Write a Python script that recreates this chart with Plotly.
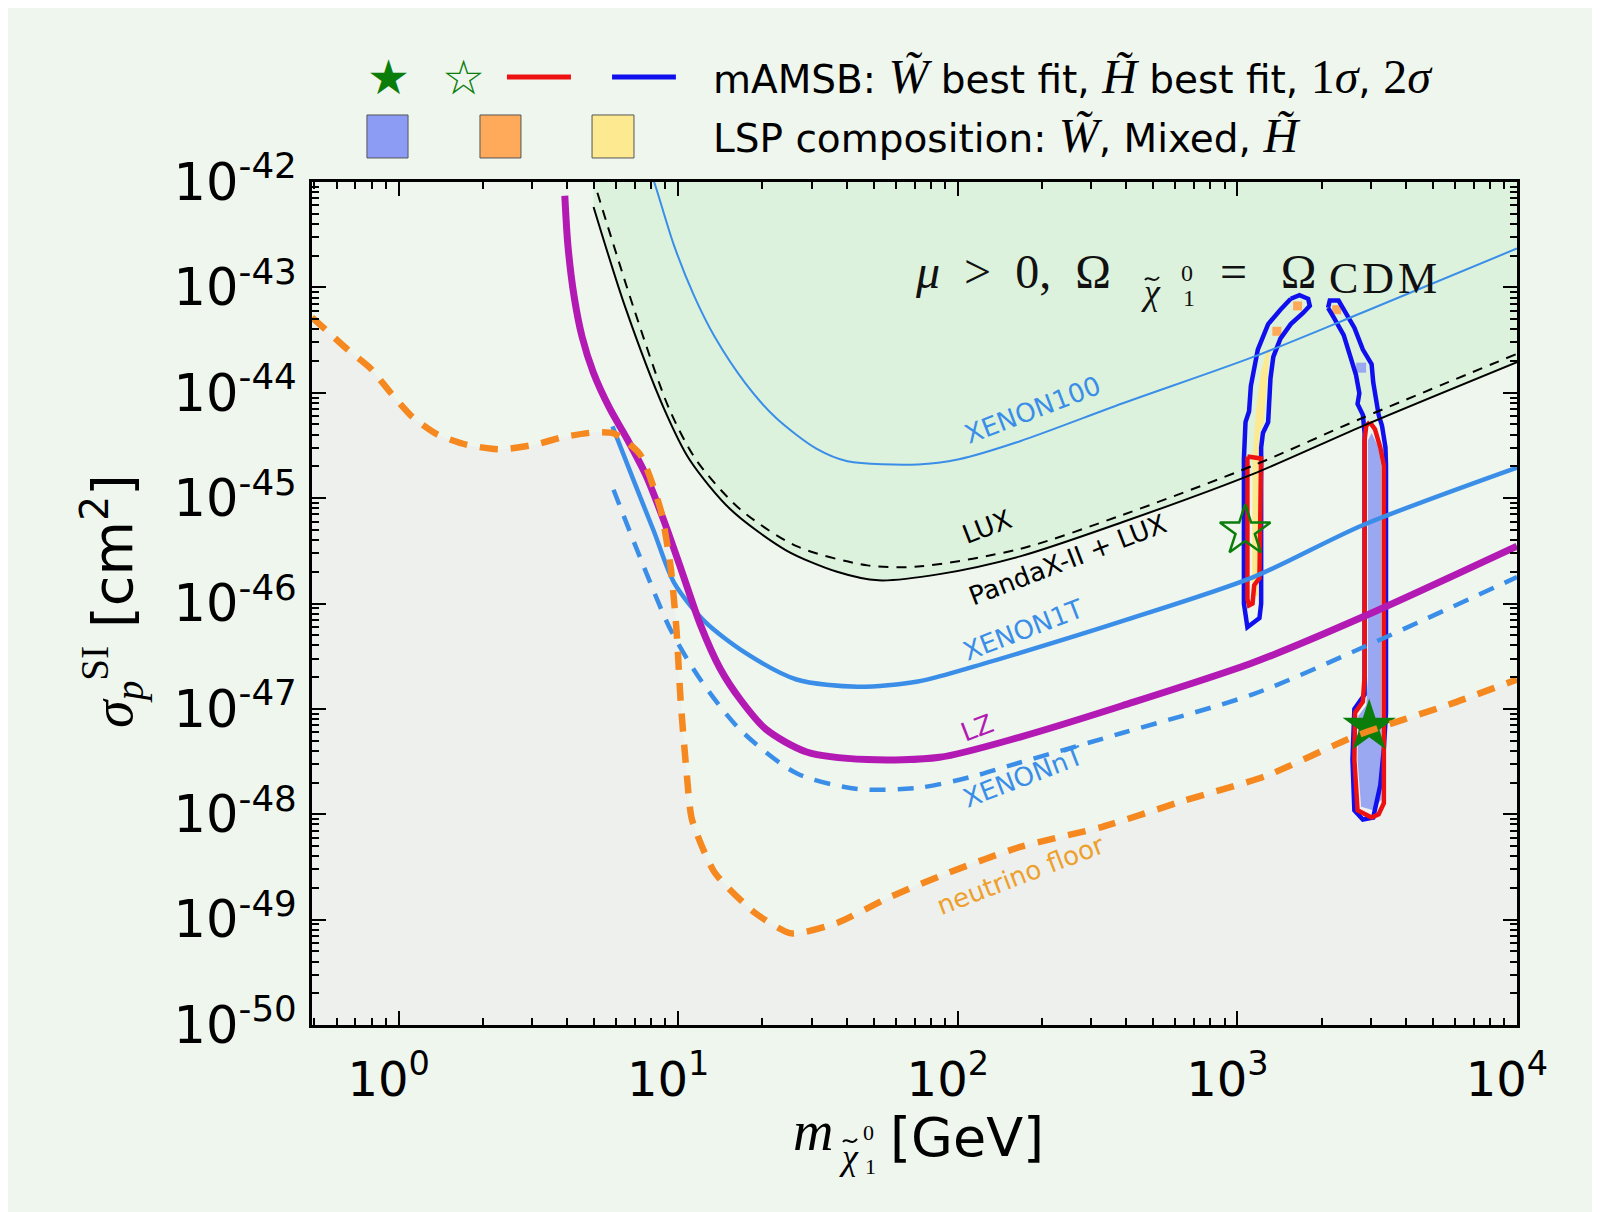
import numpy as np
import plotly.graph_objects as go

# ---------------- data ----------------
nf_m = [0.49, 0.657, 0.794, 0.936, 1.12, 1.38, 1.76, 2.32, 3.04, 3.89, 4.98, 5.9, 7.3, 8.65, 9.4, 9.86,
        10.2, 10.7, 11.2, 13.5, 18.9, 25.4, 37, 56, 93, 167, 329, 646, 1260, 2680, 5720, 10000]
nf_s = [5.2e-44, 2.57e-44, 1.7e-44, 1.0e-44, 5.9e-45, 4.0e-45, 3.2e-45, 2.9e-45, 3.2e-45, 3.8e-45, 4.2e-45,
        4.1e-45, 2.6e-45, 7.8e-46, 2.2e-46, 5.6e-47, 1.2e-47, 2.6e-48, 8.9e-49, 2.8e-49, 1.15e-49, 7.4e-50,
        9.3e-50, 1.6e-49, 2.8e-49, 4.9e-49, 7.6e-49, 1.35e-48, 2.3e-48, 5.6e-48, 1.1e-47, 1.9e-47]

x100_m = [7.8, 8.2, 9.66, 11.4, 13.5, 17.4, 22.4, 31.2, 40.3, 72, 101, 167, 387, 1140, 2790, 10000]
x100_s = [1.4e-42, 1.0e-42, 2.5e-43, 8.3e-44, 3.4e-44, 1.23e-44, 5.75e-45, 2.95e-45, 2.24e-45, 2.09e-45,
          2.34e-45, 3.47e-45, 7.9e-45, 2.19e-44, 5.75e-44, 2.34e-43]

pandax_m = [4.98, 6.45, 8.87, 11, 15.4, 24.3, 37, 52, 86, 167, 387, 1140, 2790, 10000]
pandax_s = [5.8e-43, 6.6e-44, 7.2e-45, 2.3e-45, 7.8e-46, 3.2e-46, 2.0e-46, 1.66e-46, 1.9e-46, 2.8e-46,
            5.9e-46, 1.7e-45, 4.8e-45, 1.95e-44]

lux_m = [5.14, 6.9, 9.25, 11.6, 16.7, 26.5, 47.5, 72, 167, 387, 1140, 2790, 10000]
lux_s = [7.9e-43, 6.6e-44, 7.2e-45, 2.3e-45, 7.8e-46, 3.5e-46, 2.3e-46, 2.24e-46, 3.3e-46, 6.9e-46,
         2.04e-45, 5.75e-45, 2.34e-44]

x1t_m = [5.82, 6.92, 8.17, 9.66, 12.4, 17.4, 26.5, 43.8, 72, 110, 167, 387, 1140, 2790, 10000]
x1t_s = [4.8e-45, 1.48e-45, 4.9e-46, 1.58e-46, 6.8e-47, 3.4e-47, 1.9e-47, 1.62e-47, 1.82e-47, 2.45e-47,
         3.4e-47, 6.8e-47, 1.78e-46, 5.5e-46, 1.95e-45]

lz_m = [3.93, 4.03, 4.24, 4.53, 4.97, 5.69, 6.56, 7.64, 8.88, 10.3, 12.0, 14.1, 16.7, 20.6, 28.8, 47.5, 86,
        167, 387, 1140, 2790, 10000]
lz_s = [7.4e-43, 2.53e-43, 8.3e-44, 3.4e-44, 1.56e-44, 7.1e-45, 3.66e-45, 1.68e-45, 6.15e-46, 2.02e-46,
        6.3e-47, 2.43e-47, 1.22e-47, 6.4e-48, 3.9e-48, 3.3e-48, 3.47e-48, 5.4e-48, 1.07e-47, 2.75e-47,
        7.4e-47, 3.5e-46]

xnt_m = [5.87, 7.5, 9.4, 12.0, 16.7, 26.5, 43.8, 72, 110, 167, 387, 1140, 2790, 10000]
xnt_s = [1.2e-45, 2.3e-46, 5.6e-47, 1.9e-47, 6.3e-48, 2.45e-48, 1.74e-48, 1.78e-48, 2.24e-48, 3.1e-48,
         5.9e-48, 1.38e-47, 3.8e-47, 1.78e-46]

# mAMSB contours: Higgsino (~1.1 TeV) and Wino (~3 TeV)
h2s_m = [1552, 1667, 1791, 1815, 1714, 1552, 1425, 1344, 1313, 1299, 1288, 1234, 1216, 1216, 1199, 1086,
         1055, 1055, 1069, 1101, 1117, 1183, 1288, 1425, 1552]
h2s_s = [7.8e-44, 8.45e-44, 7.8e-44, 6.67e-44, 5.68e-44, 4.48e-44, 3.26e-44, 2.19e-44, 1.37e-44, 8.48e-45,
         5.26e-45, 4.15e-45, 3.02e-45, 1.0e-46, 7.26e-47, 5.95e-47, 1.0e-46, 2.38e-45, 5.26e-45, 6.67e-45,
         1.16e-44, 2.57e-44, 4.48e-44, 6.14e-44, 7.8e-44]

h1s_m = [1086, 1216, 1199, 1148, 1133, 1100, 1086, 1086]
h1s_s = [2.48e-45, 2.38e-45, 1.74e-46, 1.49e-46, 1.0e-46, 9.6e-47, 1.1e-46, 2.48e-45]

hyel_m = [1277, 1306, 1241, 1199, 1186, 1127, 1133, 1166, 1216, 1277]
hyel_s = [2.57e-44, 2.57e-44, 5.26e-45, 4.15e-45, 1.17e-46, 1.17e-46, 2.38e-45, 6.67e-45, 1.6e-44, 2.57e-44]

w2s_m = [2110, 2140, 2300, 2400, 2620, 2810, 3020, 3060, 3150, 3200, 3290, 3385, 3400, 3400, 3340, 3245,
         3060, 2810, 2620, 2580, 2620, 2850, 2850, 2810, 2690, 2730, 2655, 2545, 2400, 2205, 2110]
w2s_s = [6.4e-44, 7.5e-44, 7.5e-44, 6.14e-44, 4.14e-44, 2.57e-44, 1.87e-44, 1.26e-44, 8.48e-45, 6.17e-45,
         4.86e-45, 3.02e-45, 2.03e-45, 9.2e-48, 4.2e-48, 1.9e-48, 9.3e-49, 8.9e-49, 1.09e-48, 3.3e-48,
         1.0e-47, 1.37e-47, 4.15e-45, 6.17e-45, 7.83e-45, 9.9e-45, 1.48e-44, 2.19e-44, 3.53e-44, 5.25e-44,
         6.4e-44]

w1s_m = [2975, 3105, 3245, 3340, 3340, 3200, 3020, 2690, 2620, 2635, 2810, 2850, 2850, 2890, 2975]
w1s_s = [5.26e-45, 4.5e-45, 3.02e-45, 2.03e-45, 1.27e-48, 1.0e-48, 9.3e-49, 1.09e-48, 3.3e-48, 9.2e-48,
         1.17e-47, 2.04e-47, 3.54e-45, 4.86e-45, 5.26e-45]

wblue_m = [3020, 3200, 3270, 3270, 3060, 2770, 2690, 2705, 2890, 2930, 2930, 3020]
wblue_s = [4.15e-45, 3.02e-45, 2.03e-45, 1.38e-48, 1.09e-48, 1.18e-48, 3.3e-48, 8.55e-48, 1.08e-47,
           2.04e-47, 3.54e-45, 4.15e-45]

mixed_m = [1641, 1384, 2265]
mixed_s = [6.67e-44, 3.83e-44, 6.14e-44]
wino_spot_m = [2770]
wino_spot_s = [1.73e-44]

best_wino = (2960, 6.8e-48)
best_higgsino = (1066, 4.9e-46)

labels = ["XENON100", "LUX", "PandaX-II + LUX", "XENON1T", "LZ", "XENONnT", "neutrino floor"]
label_m = [185, 127, 246, 171, 117, 171, 168]
label_s = [6.9e-45, 5.3e-46, 2.6e-46, 5.6e-47, 6.6e-48, 2.26e-48, 2.66e-49]

x_tickvals = [1, 10, 100, 1000, 10000]
x_ticktext = ["10<sup>0</sup>", "10<sup>1</sup>", "10<sup>2</sup>", "10<sup>3</sup>", "10<sup>4</sup>"]
y_exps = [-50, -49, -48, -47, -46, -45, -44, -43, -42]

# ---------------- styles ----------------
BLUE = "#3b8ee8"
MAG = "#b31ab3"
ORANGE = "#f5881f"
GREEN = "#0a7d0a"
BG = "#eef6ee"
SERIF = "Liberation Serif"

fig = go.Figure()

# excluded region (above PandaX-II + LUX)
fig.add_trace(go.Scatter(x=[pandax_m[0], pandax_m[-1]], y=[1e-41, 1e-41], mode="lines",
                         line=dict(width=0), hoverinfo="skip"))
fig.add_trace(go.Scatter(x=pandax_m, y=pandax_s, mode="lines", fill="tonexty", fillcolor="#dcf2dc",
                         line=dict(width=0, shape="spline", smoothing=0.8), hoverinfo="skip"))
# region below the neutrino floor
fig.add_trace(go.Scatter(x=[nf_m[0], nf_m[-1]], y=[1e-51, 1e-51], mode="lines",
                         line=dict(width=0), hoverinfo="skip"))
fig.add_trace(go.Scatter(x=nf_m, y=nf_s, mode="lines", fill="tonexty", fillcolor="#edf0ed",
                         line=dict(width=0, shape="spline", smoothing=0.6), hoverinfo="skip"))

# contour fills
fig.add_trace(go.Scatter(x=hyel_m, y=hyel_s, fill="toself", fillcolor="#fde98f", line=dict(width=0),
                         mode="lines"))
fig.add_trace(go.Scatter(x=wblue_m, y=wblue_s, fill="toself", fillcolor="#9aa8f2", line=dict(width=0),
                         mode="lines"))
fig.add_trace(go.Scatter(x=mixed_m, y=mixed_s, mode="markers",
                         marker=dict(symbol="square", size=9, color="#ffa85a")))
fig.add_trace(go.Scatter(x=wino_spot_m, y=wino_spot_s, mode="markers",
                         marker=dict(symbol="square", size=10, color="#9aa8f2")))

# contours
for mm, ss, col in [(h2s_m, h2s_s, "#1010ee"), (w2s_m, w2s_s, "#1010ee"),
                    (h1s_m, h1s_s, "#ee1111"), (w1s_m, w1s_s, "#ee1111")]:
    fig.add_trace(go.Scatter(x=mm, y=ss, mode="lines", line=dict(color=col, width=4.5)))

# best fit stars
fig.add_trace(go.Scatter(x=[best_wino[0]], y=[best_wino[1]], mode="markers",
                         marker=dict(symbol="star", size=40, color=GREEN, line=dict(width=0))))
fig.add_trace(go.Scatter(x=[best_higgsino[0]], y=[best_higgsino[1]], mode="markers",
                         marker=dict(symbol="star-open", size=38, color=GREEN, line=dict(width=2.5, color=GREEN))))


# experimental lines
def sp(color, width, dash=None, smoothing=0.8):
    d = dict(color=color, width=width, shape="spline", smoothing=smoothing)
    if dash:
        d["dash"] = dash
    return d


fig.add_trace(go.Scatter(x=x100_m, y=x100_s, mode="lines", line=sp(BLUE, 2)))
fig.add_trace(go.Scatter(x=lux_m, y=lux_s, mode="lines", line=sp("black", 2, "10px,8px")))
fig.add_trace(go.Scatter(x=pandax_m, y=pandax_s, mode="lines", line=sp("black", 2)))
fig.add_trace(go.Scatter(x=x1t_m, y=x1t_s, mode="lines", line=sp(BLUE, 4.5)))
fig.add_trace(go.Scatter(x=xnt_m, y=xnt_s, mode="lines", line=sp(BLUE, 4.5, "16px,12px")))
fig.add_trace(go.Scatter(x=lz_m, y=lz_s, mode="lines", line=sp(MAG, 7)))
fig.add_trace(go.Scatter(x=nf_m, y=nf_s, mode="lines", line=sp(ORANGE, 6.5, "18px,13px", 0.6)))

# ---------------- axes ----------------
x_minor = [k * 10 ** e for e in range(-1, 4) for k in range(2, 10) if 0.49 < k * 10 ** e < 10000]
y_minor = [k * 10.0 ** e for e in range(-50, -42) for k in range(2, 10)]

axis_common = dict(ticks="inside", ticklen=14, tickwidth=2, tickcolor="black", showline=True,
                   linewidth=3, linecolor="black", mirror="allticks", showgrid=False, zeroline=False)

fig.update_xaxes(type="log", range=[np.log10(0.49), 4], tickvals=x_tickvals, ticktext=x_ticktext,
                 tickfont=dict(family="DejaVu Sans", size=48, color="black"),
                 minor=dict(tickvals=x_minor, ticks="inside", ticklen=7, tickwidth=1.5, tickcolor="black",
                            showgrid=False),
                 ticklabelstandoff=10, ticklabelshift=-10, **axis_common)
fig.update_yaxes(type="log", range=[-50, -42], tickvals=[10.0 ** e for e in y_exps],
                 ticktext=["10<sup>%d</sup>" % e for e in y_exps],
                 tickfont=dict(family="DejaVu Sans", size=51, color="black"),
                 minor=dict(tickvals=y_minor, ticks="inside", ticklen=7, tickwidth=1.5, tickcolor="black",
                            showgrid=False),
                 ticklabelstandoff=2, **axis_common)

# ---------------- annotations ----------------
ann = []
label_colors = [BLUE, "black", "black", BLUE, MAG, BLUE, "#eea02e"]
for t, m, s, c in zip(labels, label_m, label_s, label_colors):
    ann.append(dict(x=np.log10(m), y=np.log10(s), xref="x", yref="y", text=t, showarrow=False,
                    textangle=-21, font=dict(family="DejaVu Sans", size=26, color=c)))


def pa(x, y, text, size, family=SERIF, xanchor="center", yanchor="middle", color="#111111", angle=0):
    return dict(xref="paper", yref="paper", x=x, y=y, text=text, showarrow=False, xanchor=xanchor,
                yanchor=yanchor, textangle=angle, font=dict(family=family, size=size, color=color))


# in-plot title: mu > 0, Omega_chi = Omega_CDM (pieces)
ann.append(pa(0.4988, 0.8944, "<i>μ</i>\u2002>\u20020,\u2002Ω", 48, xanchor="left"))
ann.append(pa(0.6965, 0.8695, "<i>χ</i>", 36))
ann.append(pa(0.7260, 0.8920, "0", 24))
ann.append(pa(0.7277, 0.8624, "1", 24))
ann.append(pa(0.7519, 0.8944, "=\u2002\u2009Ω", 48, xanchor="left"))
ann.append(pa(0.8423, 0.8850, "<span style='letter-spacing:4px'>CDM</span>", 44, xanchor="left"))

# x-axis title (pieces)
ann.append(pa(0.3975, -0.1263, "<i>m</i>", 56, xanchor="left", color="black"))
ann.append(pa(0.4456, -0.1566, "<i>χ</i>", 36, color="black"))
ann.append(pa(0.4622, -0.1281, "0", 22, color="black"))
ann.append(pa(0.4631, -0.1673, "1", 22, color="black"))
ann.append(pa(0.478, -0.134, "[GeV]", 54, family="DejaVu Sans", xanchor="left", color="black"))

# y-axis title
ann.append(pa(-0.166, 0.503,
              "<span style='font-family:%s'><i>σ</i><sub><i>p</i></sub><sup>SI</sup></span> [cm<sup>2</sup>]" % SERIF,
              56, family="DejaVu Sans", color="black", angle=-90))

# legend (top)
ann.append(pa(0.0631, 1.1246, "★", 48, family="DejaVu Sans", color=GREEN))
ann.append(pa(0.1261, 1.1246, "☆", 48, family="DejaVu Sans", color=GREEN))
SS = "<span style='font-family:%s;font-size:48px'>" % SERIF
ann.append(pa(0.331, 1.1246,
              "mAMSB: " + SS + "<i>W̃</i></span> best fit, " + SS + "<i>H̃</i></span> best fit, "
              + SS + "1<i>σ</i></span>, " + SS + "2<i>σ</i></span>",
              39, family="DejaVu Sans", xanchor="left", color="black"))
ann.append(pa(0.331, 1.0546,
              "LSP composition: " + SS + "<i>W̃</i></span>, Mixed, " + SS + "<i>H̃</i></span>",
              39, family="DejaVu Sans", xanchor="left", color="black"))

shapes = [
    dict(type="line", xref="paper", yref="paper", x0=0.1618, x1=0.2149, y0=1.1246, y1=1.1246,
         line=dict(color="#ee1111", width=5)),
    dict(type="line", xref="paper", yref="paper", x0=0.249, x1=0.302, y0=1.1246, y1=1.1246,
         line=dict(color="#1010ee", width=5)),
    # tildes over chi (title and x-axis title)
    dict(type="path", xref="paper", yref="paper",
         path="M 0.6913,0.8837 C 0.6946,0.8909 0.6979,0.8778 0.7029,0.8873",
         line=dict(color="#111111", width=2)),
    dict(type="path", xref="paper", yref="paper",
         path="M 0.4407,-0.1388 C 0.4440,-0.1317 0.4473,-0.1447 0.4523,-0.1352",
         line=dict(color="black", width=2)),
]
for (x0, x1), col in zip([(0.0456, 0.0797), (0.1394, 0.1734), (0.2324, 0.2672)],
                         ["#8c9cf5", "#ffa95a", "#fde98f"]):
    shapes.append(dict(type="rect", xref="paper", yref="paper", x0=x0, x1=x1, y0=1.0285, y1=1.0795,
                       fillcolor=col, line=dict(color="#555555", width=1)))

fig.update_layout(width=1600, height=1212, showlegend=False,
                  margin=dict(l=304, r=91, t=174, b=195, autoexpand=False),
                  paper_bgcolor=BG, plot_bgcolor=BG, annotations=ann, shapes=shapes)

fig.write_html("out.html")
